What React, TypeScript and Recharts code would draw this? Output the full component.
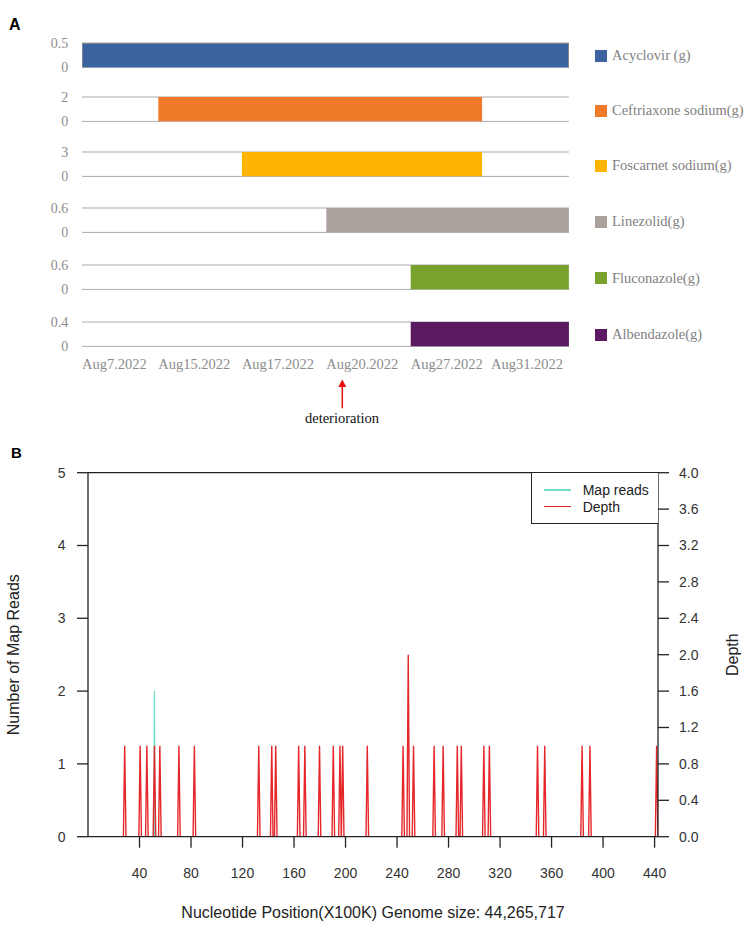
import React from 'react';
import {
  AreaChart,
  Area,
  LineChart,
  Line,
  XAxis,
  YAxis,
  CartesianGrid,
  ReferenceLine,
} from 'recharts';

// ---------------- Panel A data ----------------
const drugNames = [
  'Acyclovir (g)',
  'Ceftriaxone sodium(g)',
  'Foscarnet sodium(g)',
  'Linezolid(g)',
  'Fluconazole(g)',
  'Albendazole(g)',
];
const drugDoses = [0.5, 2, 3, 0.6, 0.6, 0.4];
// timeline positions (in date-label slots) where each drug starts / stops
const drugStart = [0, 0.94, 1.97, 3.01, 4.05, 4.05];
const drugEnd = [6, 4.93, 4.93, 6, 6, 6];
const dateLabels = ['Aug7.2022', 'Aug15.2022', 'Aug17.2022', 'Aug20.2022', 'Aug27.2022', 'Aug31.2022'];
const datePositions = [0, 0.94, 1.97, 3.01, 4.05, 5.04];

// ---------------- Panel B data ----------------
const genomeSize = 442.66; // x100K
const positionTicks = [40, 80, 120, 160, 200, 240, 280, 320, 360, 400, 440];
const readTicks = [0, 1, 2, 3, 4, 5];
const depthTicks = [0, 0.4, 0.8, 1.2, 1.6, 2.0, 2.4, 2.8, 3.2, 3.6, 4.0];
const depthPositions = [
  28.5, 40.5, 45.7, 51.6, 55.8, 70.6, 82.6, 132.6, 142.7, 145.8, 163.6, 168.4, 179.8, 190.5,
  195.7, 197.8, 216.9, 244.7, 248.7, 252.8, 268.8, 275.8, 286.8, 289.9, 307.4, 311.7, 349.1,
  354.7, 383.7, 389.8, 441.6,
];
const depthValues = [
  1, 1, 1, 1, 1, 1, 1, 1, 1, 1, 1, 1, 1, 1, 1, 1, 1, 1, 2, 1, 1, 1, 1, 1, 1, 1, 1, 1, 1, 1, 1,
];
const mapReadPositions = [51.6];
const mapReadValues = [2];

// ---------------- styles ----------------
const drugColors = ['#3B64A0', '#F07A2A', '#FDB501', '#ABA19D', '#78A22B', '#5C1A63'];
const rowTops = [42.7, 97.3, 152.3, 208.3, 265, 321.7];
const rowH = 24.4;
const SERIF = '"Liberation Serif", "Times New Roman", serif';
const SANS = '"Liberation Sans", Arial, sans-serif';

function spikes(pos: number[], vals: number[], half: number) {
  const out: { x: number; v: number }[] = [];
  pos.forEach((p, i) => {
    out.push({ x: p - half, v: 0 });
    out.push({ x: p, v: vals[i] });
    out.push({ x: p + half, v: 0 });
  });
  return out;
}

const depthData = spikes(depthPositions, depthValues, 1.0);
const readData = spikes(mapReadPositions, mapReadValues, 0.4);

const DateTick = (props: any) => {
  const { x, y, payload } = props;
  const idx = datePositions.indexOf(payload.value);
  return (
    <text x={x} y={y} dy="0.71em" textAnchor="start" fill="#8c8c8c" fontSize={14.5} fontFamily={SERIF}>
      {dateLabels[idx]}
    </text>
  );
};

const LeftTitle = (props: any) => {
  const vb = props.viewBox || { x: 28, y: 32.7, width: 60, height: 364 };
  const cx = vb.x - 14.5;
  const cy = vb.y + vb.height / 2;
  return (
    <text x={cx} y={cy} transform={`rotate(-90, ${cx}, ${cy})`} textAnchor="middle" dominantBaseline="central" fontSize={16} fill="#222" fontFamily={SANS}>
      Number of Map Reads
    </text>
  );
};

const RightTitle = (props: any) => {
  const vb = props.viewBox || { x: 658, y: 32.7, width: 62, height: 364 };
  const cx = vb.x + 75;
  const cy = vb.y + vb.height / 2;
  return (
    <text x={cx} y={cy} transform={`rotate(-90, ${cx}, ${cy})`} textAnchor="middle" dominantBaseline="central" fontSize={16} fill="#222" fontFamily={SANS}>
      Depth
    </text>
  );
};

const BottomTitle = (props: any) => {
  const vb = props.viewBox || { x: 88, y: 396.7, width: 570, height: 80 };
  return (
    <text x={vb.x + vb.width / 2} y={vb.y + 81} textAnchor="middle" fontSize={16} fill="#222" fontFamily={SANS}>
      Nucleotide Position(X100K) Genome size: 44,265,717
    </text>
  );
};

export default function App() {
  return (
    <div
      style={{
        position: 'absolute',
        left: 0,
        top: 0,
        width: 750,
        height: 930,
        overflow: 'hidden',
        background: '#fff',
        fontFamily: SANS,
      }}
    >
      {/* Panel letters */}
      <div style={{ position: 'absolute', left: 9, top: 16, fontSize: 16, fontWeight: 'bold', fontFamily: SANS, lineHeight: '18px' }}>A</div>
      <div style={{ position: 'absolute', left: 11, top: 444, fontSize: 15, fontWeight: 'bold', fontFamily: SANS, lineHeight: '18px' }}>B</div>

      {/* Panel A rows */}
      {drugNames.map((name, i) => {
        const last = i === drugNames.length - 1;
        const dose = drugDoses[i];
        const data = [
          { x: drugStart[i], dose: 0 },
          { x: drugStart[i], dose },
          { x: drugEnd[i], dose },
          { x: drugEnd[i], dose: 0 },
        ];
        const h = 10 + rowH + (last ? 40 : 10);
        return (
          <div key={name} style={{ position: 'absolute', left: 0, top: rowTops[i] - 10, width: 580, height: h }}>
            <AreaChart width={580} height={h} data={data} margin={{ top: 10, right: 11, left: 22, bottom: 10 }}>
              <CartesianGrid vertical={false} stroke="#ababab" strokeWidth={1} />
              <XAxis
                type="number"
                dataKey="x"
                domain={[0, 6]}
                allowDataOverflow
                hide={!last}
                ticks={datePositions}
                interval={0}
                axisLine={false}
                tickLine={false}
                tickSize={0}
                tickMargin={12.8}
                height={30}
                tick={<DateTick />}
              />
              <YAxis
                domain={[0, dose]}
                ticks={[0, dose]}
                allowDataOverflow
                width={60}
                axisLine={false}
                tickLine={false}
                tickSize={0}
                tickMargin={13.7}
                tick={{ fill: '#8c8c8c', fontSize: 14, fontFamily: SERIF }}
              />
              <Area
                type="linear"
                dataKey="dose"
                name={name}
                fill={drugColors[i]}
                fillOpacity={1}
                stroke={i === 0 ? '#8c8c8c' : 'none'}
                strokeWidth={1.5}
                dot={false}
                activeDot={false}
                isAnimationActive={false}
              />
            </AreaChart>
          </div>
        );
      })}

      {/* Panel A legend */}
      {drugNames.map((name, i) => (
        <div
          key={'lg' + name}
          style={{
            position: 'absolute',
            left: 595,
            top: rowTops[i] + rowH / 2 - 9,
            height: 20,
            display: 'flex',
            alignItems: 'center',
            whiteSpace: 'nowrap',
          }}
        >
          <div style={{ width: 12, height: 12, background: drugColors[i], marginRight: 5 }} />
          <span style={{ fontFamily: SERIF, fontSize: 14.5, color: '#7f7f7f' }}>{name}</span>
        </div>
      ))}

      {/* deterioration annotation */}
      <svg style={{ position: 'absolute', left: 0, top: 0 }} width={750} height={440}>
        <line x1={342.3} y1={408.3} x2={342.3} y2={385} stroke="#e8100f" strokeWidth={1.5} />
        <polygon points="342.3,379.5 338.3,387 346.3,387" fill="#e8100f" />
        <text x={342} y={423.3} textAnchor="middle" fontSize={14.5} fontFamily={SERIF} fill="#111">
          deterioration
        </text>
      </svg>

      {/* Panel B */}
      <div style={{ position: 'absolute', left: 0, top: 440, width: 750, height: 490 }}>
        <LineChart width={750} height={490} margin={{ top: 32.7, right: 30, left: 28, bottom: 13.3 }}>
          <XAxis
            type="number"
            dataKey="x"
            domain={[0, genomeSize]}
            allowDataOverflow
            ticks={positionTicks}
            interval={0}
            height={80}
            tickSize={11}
            tickMargin={20}
            axisLine={{ stroke: '#222', strokeWidth: 1.3 }}
            tickLine={{ stroke: '#222', strokeWidth: 1.3 }}
            tick={{ fill: '#333', fontSize: 14, fontFamily: SANS }}
            label={<BottomTitle />}
          />
          <YAxis
            yAxisId="reads"
            domain={[0, 5]}
            ticks={readTicks}
            allowDataOverflow
            width={60}
            tickSize={11}
            tickMargin={11.5}
            axisLine={{ stroke: '#222', strokeWidth: 1.3 }}
            tickLine={{ stroke: '#222', strokeWidth: 1.3 }}
            tick={{ fill: '#333', fontSize: 14, fontFamily: SANS }}
            label={<LeftTitle />}
          />
          <YAxis
            yAxisId="depth"
            orientation="right"
            domain={[0, 4]}
            ticks={depthTicks}
            allowDataOverflow
            width={62}
            tickSize={11}
            tickMargin={10}
            tickFormatter={(v: number) => v.toFixed(1)}
            axisLine={{ stroke: '#222', strokeWidth: 1.3 }}
            tickLine={{ stroke: '#222', strokeWidth: 1.3 }}
            tick={{ fill: '#333', fontSize: 14, fontFamily: SANS }}
            label={<RightTitle />}
          />
          <ReferenceLine yAxisId="reads" y={5} stroke="#222" strokeWidth={1.3} />
          <Line
            yAxisId="reads"
            data={readData}
            dataKey="v"
            name="Map reads"
            type="linear"
            stroke="#74DCCF"
            strokeWidth={1.3}
            dot={false}
            activeDot={false}
            isAnimationActive={false}
          />
          <Line
            yAxisId="depth"
            data={depthData}
            dataKey="v"
            name="Depth"
            type="linear"
            stroke="#E5262B"
            strokeWidth={1.4}
            dot={false}
            activeDot={false}
            isAnimationActive={false}
          />
        </LineChart>
      </div>

      {/* Panel B legend */}
      <div
        style={{
          position: 'absolute',
          left: 530.7,
          top: 472.7,
          width: 127.3,
          height: 51.3,
          boxSizing: 'border-box',
          borderLeft: '1.3px solid #222',
          borderBottom: '1.3px solid #222',
          background: '#fff',
        }}
      >
        <div style={{ position: 'absolute', left: 12, top: 16.5, width: 27, height: 1.5, background: '#74DCCF' }} />
        <div style={{ position: 'absolute', left: 51, top: 8, fontSize: 14, color: '#222', fontFamily: SANS, lineHeight: '18px', whiteSpace: 'nowrap' }}>Map reads</div>
        <div style={{ position: 'absolute', left: 12, top: 33.2, width: 27, height: 1.5, background: '#E5262B' }} />
        <div style={{ position: 'absolute', left: 51, top: 25, fontSize: 14, color: '#222', fontFamily: SANS, lineHeight: '18px', whiteSpace: 'nowrap' }}>Depth</div>
      </div>
    </div>
  );
}
